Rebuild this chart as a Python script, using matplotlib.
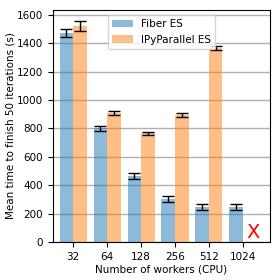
import numpy as np
import matplotlib
matplotlib.use("Agg")
import matplotlib.pyplot as plt

workers = ["32", "64", "128", "256", "512", "1024"]
fiber_mean = [1475, 800, 465, 305, 245, 245]
fiber_err = [30, 20, 20, 20, 20, 20]
ipp_mean = [1525, 910, 765, 895, 1370]
ipp_err = [35, 15, 10, 15, 15]

plt.rcParams['font.size'] = 7.5

fig, ax = plt.subplots(figsize=(2.8, 2.8), dpi=100)
x = np.arange(len(workers))
w = 0.4

ax.bar(x - w / 2, fiber_mean, w, yerr=fiber_err, color='tab:blue', alpha=0.5,
       capsize=4, error_kw=dict(ecolor='black', elinewidth=1), label='Fiber ES', zorder=3)
ax.bar(x[:len(ipp_mean)] + w / 2, ipp_mean, w, yerr=ipp_err, color='tab:orange', alpha=0.5,
       capsize=4, error_kw=dict(ecolor='black', elinewidth=1), label='IPyParallel ES', zorder=3)
# no IPyParallel result for 1024 workers
ax.text(x[-1] + 0.3, 0, 'X', color='red', fontsize=14, ha='center', va='bottom', zorder=4)

ax.set_xticks(x)
ax.set_xticklabels(workers)
ax.set_xlim(-0.6, 5.8)
ax.set_ylim(0, 1635)
ax.yaxis.grid(True, color='#b0b0b0', linewidth=1, zorder=0)
ax.set_axisbelow(True)
ax.set_xlabel('Number of workers (CPU)', labelpad=2)
ax.set_ylabel('Mean time to finish 50 iterations (s)', labelpad=1)
ax.legend(loc='upper center')

fig.subplots_adjust(left=0.189, right=0.964, bottom=0.136, top=0.964)
fig.savefig('out.png', dpi=100)
